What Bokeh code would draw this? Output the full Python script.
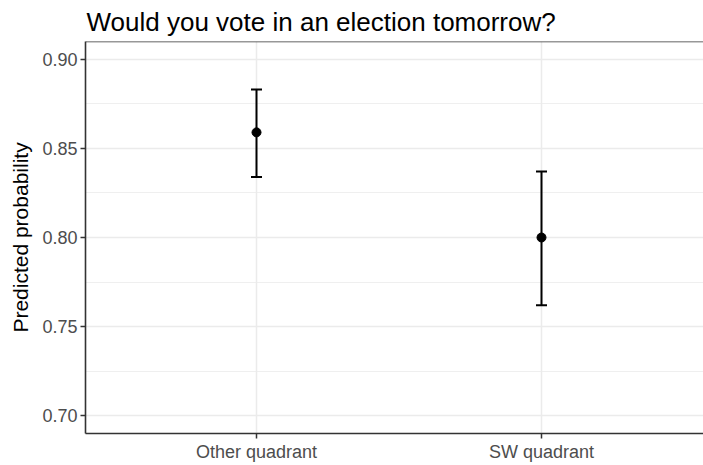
from bokeh.plotting import figure
from bokeh.models import (ColumnDataSource, Whisker, TeeHead, FixedTicker,
                          Span, PrintfTickFormatter)
from bokeh.embed import file_html
from bokeh.resources import INLINE

# estimates
categories = ["Other quadrant", "SW quadrant"]
predicted = [0.859, 0.800]
lower = [0.834, 0.762]
upper = [0.883, 0.837]

y_ticks = [0.70, 0.75, 0.80, 0.85, 0.90]
y_minor = [0.725, 0.775, 0.825, 0.875]

xpos = list(range(1, len(categories) + 1))
src = ColumnDataSource(dict(x=xpos, y=predicted, lo=lower, hi=upper))

FONT = "Liberation Sans"

# ggplot style: discrete axis expanded by 0.6, continuous by 5%
# (the right side of the panel is cut off in the original)
p = figure(width=703, height=465, output_backend="svg", toolbar_location=None,
           x_range=(0.4, 0.4 + 618 / 285), y_range=(0.69, 0.91),
           min_border_left=85, min_border_right=0, min_border_top=40,
           min_border_bottom=32)

p.title.text = "Would you vote in an election tomorrow?"
p.title.text_font = FONT
p.title.text_font_size = "26px"
p.title.text_font_style = "normal"
p.title.text_color = "black"
p.title.standoff = 9
p.title.offset = 1

p.outline_line_color = None
p.background_fill_color = "white"

# grids
p.xgrid.ticker = FixedTicker(ticks=xpos)
p.ygrid.ticker = FixedTicker(ticks=y_ticks, minor_ticks=y_minor)
p.grid.grid_line_color = "#EBEBEB"
p.grid.grid_line_width = 1.5
p.ygrid.minor_grid_line_color = "#EBEBEB"
p.ygrid.minor_grid_line_width = 0.8

# axes
for ax in (p.xaxis[0], p.yaxis[0]):
    ax.axis_line_color = "#333333"
    ax.axis_line_width = 1.6
    ax.major_tick_line_color = "#333333"
    ax.major_tick_line_width = 1.5
    ax.major_tick_out = 5
    ax.major_tick_in = 0
    ax.minor_tick_line_color = None
    ax.major_label_text_font = FONT
    ax.major_label_text_font_size = "18px"
    ax.major_label_text_color = "#4D4D4D"
    ax.major_label_standoff = 3

p.xaxis.ticker = FixedTicker(ticks=xpos)
p.xaxis.major_label_overrides = {x: c for x, c in zip(xpos, categories)}

p.yaxis.ticker = FixedTicker(ticks=y_ticks, minor_ticks=y_minor)
p.yaxis.formatter = PrintfTickFormatter(format="%.2f")
p.yaxis.axis_label = "Predicted probability"
p.yaxis.axis_label_text_font = FONT
p.yaxis.axis_label_text_font_size = "21px"
p.yaxis.axis_label_text_font_style = "normal"
p.yaxis.axis_label_text_color = "black"
p.yaxis.axis_label_standoff = 7

# top edge of the panel border
p.add_layout(Span(location=0.91, dimension="width",
                  line_color="#333333", line_width=1.6))

# error bars and points
p.add_layout(Whisker(source=src, base="x", upper="hi", lower="lo",
                     line_color="black", line_width=2,
                     upper_head=TeeHead(size=11, line_color="black", line_width=2),
                     lower_head=TeeHead(size=11, line_color="black", line_width=2)))
p.scatter("x", "y", source=src, size=9, color="black")

open("out.html", "w").write(file_html(p, INLINE))
